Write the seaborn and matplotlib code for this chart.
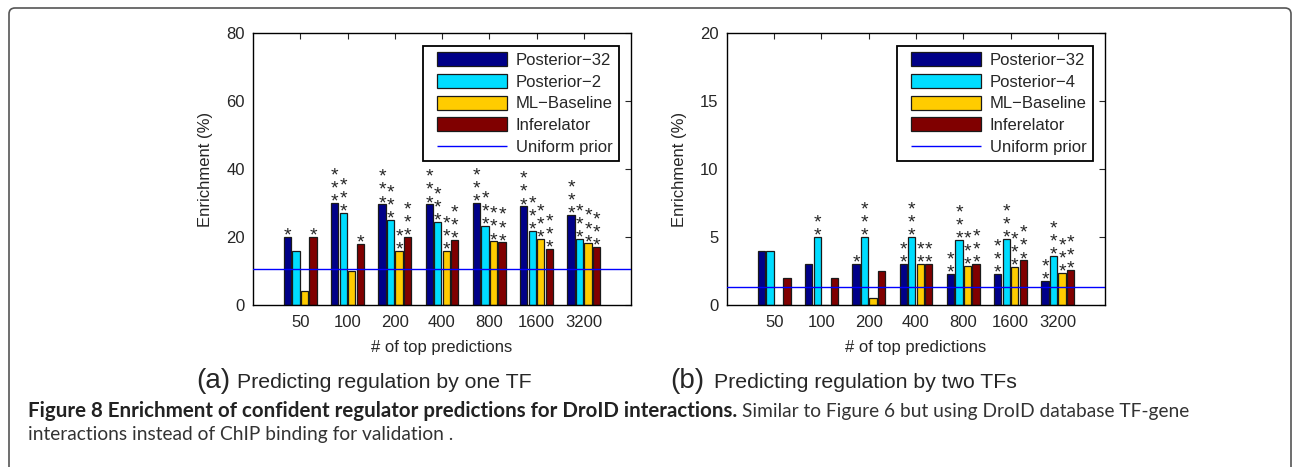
import pandas as pd
import matplotlib
matplotlib.use('Agg')
import matplotlib.pyplot as plt
import seaborn as sns
from matplotlib.patches import Patch, Rectangle, FancyBboxPatch
from matplotlib.legend_handler import HandlerPatch
from matplotlib.transforms import IdentityTransform

# 数据
top_n = ['50', '100', '200', '400', '800', '1600', '3200']

# (a) 一个TF
methods_a = ['Posterior−32', 'Posterior−2', 'ML−Baseline', 'Inferelator']
post32_a = [20, 30, 29.6, 29.6, 30, 29, 26.5]
post2_a = [16, 27, 25, 24.5, 23.3, 21.9, 19.5]
ml_a = [4, 9.9, 16, 16, 18.7, 19.5, 18.1]
inf_a = [20, 18, 20, 19.1, 18.4, 16.6, 17]
stars_a = [[1, 3, 3, 3, 3, 3, 3],
           [0, 3, 3, 3, 3, 3, 3],
           [0, 0, 2, 3, 3, 3, 3],
           [1, 1, 3, 3, 3, 3, 3]]
uniform_a = 10.5

# (b) 两个TF
methods_b = ['Posterior−32', 'Posterior−4', 'ML−Baseline', 'Inferelator']
post32_b = [4, 3, 3, 3, 2.3, 2.3, 1.8]
post4_b = [4, 5, 5, 5, 4.78, 4.85, 3.62]
ml_b = [0, 0, 0.5, 3, 2.88, 2.78, 2.34]
inf_b = [2, 2, 2.5, 3, 3, 3.28, 2.56]
stars_b = [[0, 0, 1, 2, 2, 3, 2],
           [0, 2, 3, 3, 3, 3, 3],
           [0, 0, 0, 2, 3, 3, 3],
           [0, 0, 0, 2, 3, 3, 3]]
uniform_b = 1.35

colors = ['#000088', '#00DDFF', '#FFCC00', '#800000']
edge = '#1a1a1a'
prior_color = '#0000FF'

sns.set_style('white')
plt.rcParams['font.family'] = ['Liberation Sans', 'DejaVu Sans']
plt.rcParams['axes.unicode_minus'] = True

fig = plt.figure(figsize=(12.93, 4.67), dpi=100)
W, H = 1293, 467


def legend_patch(legend, orig_handle, xdescent, ydescent, width, height, fontsize):
    # 图例色块左侧留一点空
    inset = 0.1 * width
    if orig_handle.get_facecolor()[3] == 0:
        return Rectangle((-xdescent + inset, -ydescent + height / 2), width - inset, 0)
    return Rectangle((-xdescent + inset, -ydescent), width - inset, height)


def draw_panel(left_px, series, methods, stars, uniform, ymax, yticks):
    ax = fig.add_axes([left_px / W, 1 - 305 / H, 378 / W, 272 / H])
    df = pd.DataFrame({
        'top': top_n * len(methods),
        'enrich': [v for s in series for v in s],
        'method': [m for m in methods for _ in top_n],
    })
    sns.barplot(data=df, x='top', y='enrich', hue='method', order=top_n,
                hue_order=methods, palette=colors, saturation=1,
                width=0.72, gap=0.15, edgecolor=edge, linewidth=0.9,
                errorbar=None, legend=False, ax=ax)
    ax.axhline(uniform, color=prior_color, lw=1.0, zorder=5)

    # 显著性星号
    for i, cont in enumerate(ax.containers):
        for j, bar in enumerate(cont.patches):
            n = stars[i][j]
            if n == 0:
                continue
            x = bar.get_x() + bar.get_width() / 2
            ax.annotate('\n'.join(['*'] * n), (x, bar.get_height()),
                        xytext=(0, -5.5), textcoords='offset points',
                        ha='center', va='bottom', fontsize=14,
                        linespacing=0.70)

    ax.set_xlim(-1, 7)
    ax.set_ylim(0, ymax)
    ax.set_yticks(yticks)
    ax.tick_params(direction='in', top=True, right=True, length=4,
                   labelsize=12, width=0.8)
    ax.tick_params(axis='x', pad=7)
    ax.tick_params(axis='y', pad=6)
    for sp in ax.spines.values():
        sp.set_visible(True)
        sp.set_color('black')
        sp.set_linewidth(1.0)
    ax.set_xlabel('# of top predictions', fontsize=12)
    ax.set_ylabel('Enrichment (%)', fontsize=12)
    ax.xaxis.set_label_coords(0.5, -0.13)
    ax.yaxis.set_label_coords(-0.105, 0.5)

    handles = [Patch(facecolor=c, edgecolor=edge, linewidth=0.9) for c in colors]
    handles.append(Patch(facecolor='none', edgecolor=prior_color, linewidth=1.0))
    leg = ax.legend(handles, methods + ['Uniform prior'], loc='upper right',
                    bbox_to_anchor=(0.968, 0.952), borderaxespad=0,
                    fontsize=12, handlelength=4.67, handleheight=0.92,
                    handletextpad=0.5, labelspacing=0.35, borderpad=0.38,
                    fancybox=False, framealpha=1, edgecolor='black',
                    handler_map={Patch: HandlerPatch(patch_func=legend_patch)})
    leg.get_frame().set_linewidth(1.3)
    return ax


draw_panel(253, [post32_a, post2_a, ml_a, inf_a], methods_a, stars_a,
           uniform_a, 80, [0, 20, 40, 60, 80])
draw_panel(727, [post32_b, post4_b, ml_b, inf_b], methods_b, stars_b,
           uniform_b, 20, [0, 5, 10, 15, 20])

# 子图标题
fig.text(196 / W, 1 - 388 / H, '(a)', fontsize=20, va='baseline')
fig.text(237 / W, 1 - 388 / H, 'Predicting regulation by one TF', fontsize=15.3, va='baseline')
fig.text(670 / W, 1 - 388 / H, '(b)', fontsize=20, va='baseline')
fig.text(714 / W, 1 - 388 / H, 'Predicting regulation by two TFs', fontsize=15.3, va='baseline')

# 图注
cap_font = ['Lato', 'DejaVu Sans']
t1 = fig.text(28 / W, 1 - 417 / H,
              'Figure 8 Enrichment of confident regulator predictions for DroID interactions.',
              fontsize=14.8, fontweight='bold', family=cap_font, va='baseline', color='#222222')
fig.canvas.draw()
x_end = t1.get_window_extent().x1
fig.text((x_end + 5) / W, 1 - 417 / H, 'Similar to Figure 6 but using DroID database TF-gene',
         fontsize=13.8, family=cap_font, va='baseline', color='#333333')
fig.text(28 / W, 1 - 440 / H,
         'interactions instead of ChIP binding for validation .',
         fontsize=13.8, family=cap_font, va='baseline', color='#333333')

# 外框
frame = FancyBboxPatch((9, -30), 1282, H - 8 + 30,
                       boxstyle='round,pad=0,rounding_size=6',
                       transform=IdentityTransform(), facecolor='none',
                       edgecolor='#555555', linewidth=1.2)
fig.patches.append(frame)

fig.savefig('out.png', dpi=100)
